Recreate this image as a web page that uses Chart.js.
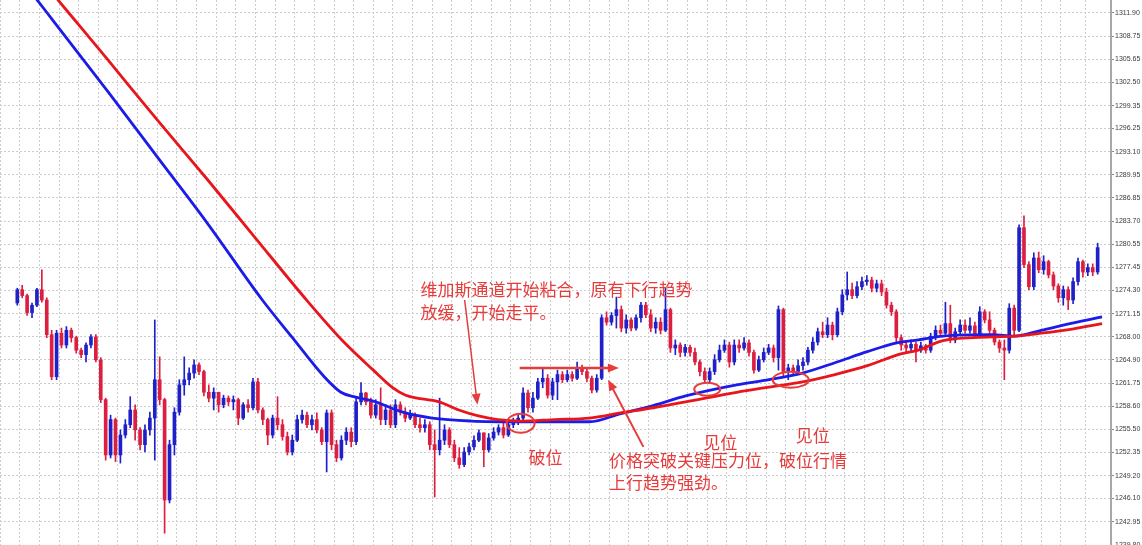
<!DOCTYPE html>
<html>
<head>
<meta charset="utf-8">
<script src="https://cdn.jsdelivr.net/npm/chart.js@4.4.1/dist/chart.umd.min.js"></script>
<style>
  html, body { margin: 0; padding: 0; background: #fff; }
  #wrap { width: 1142px; height: 545px; }
</style>
</head>
<body>
<div id="wrap"><canvas id="priceChart" width="1142" height="545"></canvas></div>
<script>
// price axis labels (right side)
const yTickLabels = ['1311.90','1308.75','1305.65','1302.50','1299.35','1296.25','1293.10','1289.95',
  '1286.85','1283.70','1280.55','1277.45','1274.30','1271.15','1268.00','1264.90','1261.75','1258.60',
  '1255.50','1252.35','1249.20','1246.10','1242.95','1239.80'];

// candles, one per bar slot
const opens = [
  1272.6,1274.4,1273.6,1271.3,1272.3,1274.4,1273.0,1268.3,1262.6,1268.5,
  1266.9,1268.9,1267.9,1266.2,1265.6,1266.9,1268.0,1264.9,1259.5,1252.0,
  1256.8,1252.0,1254.7,1256.1,1258.1,1255.4,1253.4,1255.4,1257.0,1262.2,
  1259.5,1245.9,1253.4,1257.8,1261.5,1262.2,1263.1,1264.2,1263.3,1260.5,
  1259.7,1260.5,1258.8,1259.7,1259.2,1259.5,1257.0,1258.8,1258.4,1261.9,
  1258.1,1256.8,1254.7,1257.0,1256.1,1254.5,1252.4,1254.0,1256.8,1257.4,
  1256.1,1256.8,1255.4,1253.8,1257.7,1253.4,1251.6,1254.0,1255.1,1253.8,
  1259.2,1260.4,1259.2,1257.4,1258.8,1256.8,1258.1,1256.1,1258.8,1257.8,
  1257.0,1257.4,1256.1,1255.7,1256.1,1253.4,1252.7,1254.0,1255.4,1253.4,
  1251.6,1250.7,1252.4,1253.1,1254.0,1255.0,1252.7,1254.3,1255.1,1255.7,
  1254.7,1256.1,1256.5,1257.0,1260.4,1258.4,1259.7,1261.9,1262.4,1260.1,
  1261.9,1262.9,1262.2,1262.9,1262.4,1263.8,1263.3,1262.4,1260.8,1262.4,
  1270.6,1270.0,1270.9,1271.7,1269.2,1270.3,1269.2,1270.6,1272.3,1271.0,
  1269.2,1270.0,1268.9,1271.7,1266.5,1266.9,1265.9,1266.6,1265.9,1264.6,
  1263.3,1262.2,1263.3,1264.9,1266.2,1266.9,1264.6,1266.9,1266.5,1267.2,
  1265.9,1263.5,1264.9,1265.9,1266.5,1265.2,1271.7,1263.3,1263.8,1263.3,
  1264.1,1264.6,1266.2,1267.3,1268.7,1268.3,1269.6,1268.3,1271.4,1273.7,
  1274.4,1273.6,1274.8,1275.5,1275.7,1274.6,1275.2,1274.1,1272.3,1271.4,
  1267.9,1266.9,1266.5,1267.0,1266.2,1266.8,1266.2,1268.1,1268.9,1268.5,
  1269.8,1267.6,1268.7,1269.6,1268.9,1269.5,1268.4,1271.4,1270.3,1268.9,
  1267.3,1266.5,1266.2,1271.9,1268.9,1282.8,1277.8,1274.8,1278.7,1277.1,
  1278.2,1276.4,1274.9,1273.3,1274.4,1273.0,1275.5,1278.2,1276.8,1277.4,1276.8
];
const highs = [
  1274.6,1275.0,1273.8,1272.6,1274.6,1277.1,1273.3,1268.9,1268.9,1269.2,
  1269.4,1269.2,1268.1,1266.5,1267.2,1268.3,1268.3,1265.2,1259.7,1257.4,
  1257.0,1255.4,1256.8,1259.9,1258.8,1255.7,1256.1,1257.8,1270.3,1265.3,
  1259.7,1254.0,1258.4,1262.2,1265.3,1263.8,1264.9,1264.5,1263.5,1261.5,
  1261.1,1260.5,1260.1,1260.0,1260.0,1259.7,1259.1,1259.5,1262.4,1262.4,
  1258.4,1257.0,1257.4,1259.9,1256.8,1255.1,1254.7,1257.4,1258.1,1257.8,
  1257.4,1257.7,1255.7,1258.1,1258.1,1254.0,1254.6,1255.7,1255.7,1259.7,
  1261.8,1260.5,1259.7,1259.5,1261.1,1258.8,1258.8,1259.5,1259.2,1258.4,
  1258.1,1257.7,1257.0,1256.8,1256.5,1255.4,1259.7,1256.1,1255.7,1254.0,
  1253.0,1253.0,1253.6,1254.6,1255.4,1255.0,1254.9,1255.7,1256.1,1256.3,
  1256.8,1257.0,1257.6,1261.1,1260.8,1260.5,1262.4,1263.8,1262.9,1262.4,
  1263.5,1263.3,1263.5,1263.3,1264.6,1264.2,1263.8,1262.7,1262.9,1271.0,
  1271.4,1271.3,1273.4,1272.2,1271.0,1270.6,1271.0,1272.7,1272.7,1271.7,
  1270.6,1270.6,1274.6,1271.9,1267.6,1267.2,1267.0,1266.9,1266.5,1264.9,
  1263.8,1263.8,1265.6,1266.9,1267.6,1267.3,1267.6,1267.6,1267.9,1267.6,
  1266.2,1265.4,1266.5,1267.0,1266.9,1272.2,1271.9,1264.3,1264.2,1264.9,
  1265.2,1266.6,1267.9,1269.2,1270.0,1270.6,1270.0,1271.9,1274.4,1276.8,
  1275.3,1275.5,1276.1,1276.3,1276.1,1275.7,1275.7,1274.6,1272.7,1271.7,
  1268.3,1267.5,1267.6,1267.3,1267.3,1267.0,1268.5,1269.5,1269.6,1272.7,
  1272.3,1269.2,1270.3,1270.3,1270.6,1270.0,1272.1,1271.7,1271.4,1269.2,
  1267.6,1267.6,1272.5,1272.3,1283.2,1284.4,1278.2,1279.4,1279.5,1279.0,
  1278.4,1276.8,1275.2,1274.9,1274.8,1276.0,1278.7,1278.4,1277.9,1277.9,1280.7
];
const lows = [
  1272.3,1273.3,1270.9,1270.6,1272.1,1272.7,1267.9,1262.2,1262.2,1266.5,
  1266.5,1267.3,1265.8,1265.2,1264.6,1266.5,1264.6,1259.1,1251.3,1251.6,
  1251.1,1250.9,1254.3,1255.7,1254.0,1252.7,1252.4,1254.7,1251.3,1258.8,
  1241.4,1245.5,1252.0,1257.4,1260.1,1261.5,1262.4,1262.9,1260.0,1259.2,
  1258.1,1257.8,1258.4,1258.7,1258.1,1256.1,1256.8,1257.8,1258.1,1257.7,
  1256.1,1253.4,1254.3,1255.4,1254.0,1252.0,1252.0,1253.8,1256.3,1255.7,
  1255.4,1255.0,1253.4,1249.7,1252.7,1251.1,1251.3,1253.4,1253.1,1253.4,
  1258.8,1258.8,1257.0,1257.0,1256.1,1256.1,1255.7,1255.7,1257.4,1256.5,
  1256.8,1255.7,1255.1,1255.1,1252.7,1246.3,1252.0,1253.4,1253.0,1251.1,
  1250.2,1250.4,1252.0,1252.7,1253.8,1250.4,1252.4,1254.0,1254.7,1254.3,
  1254.5,1255.7,1256.1,1256.8,1257.8,1257.8,1259.5,1261.1,1259.7,1259.5,
  1259.5,1261.8,1261.9,1262.0,1262.2,1262.9,1261.9,1260.4,1260.5,1262.2,
  1269.6,1269.6,1269.2,1268.7,1268.5,1268.8,1268.9,1270.0,1270.6,1268.7,
  1268.5,1268.4,1268.7,1265.9,1265.6,1265.3,1265.4,1265.4,1264.2,1262.7,
  1261.8,1261.9,1262.9,1264.6,1265.9,1263.9,1264.2,1265.9,1266.2,1265.4,
  1263.1,1263.3,1264.6,1265.6,1264.6,1263.5,1262.6,1262.2,1262.9,1262.9,
  1263.5,1264.2,1265.8,1266.9,1267.9,1267.9,1267.6,1268.0,1271.0,1273.0,
  1273.2,1273.3,1274.4,1275.0,1274.1,1274.1,1273.6,1271.9,1270.9,1267.3,
  1266.2,1265.9,1265.9,1264.6,1265.9,1265.8,1265.9,1267.6,1268.1,1268.3,
  1267.2,1267.2,1268.3,1268.5,1268.5,1268.0,1268.1,1269.9,1268.5,1266.9,
  1265.9,1262.2,1265.8,1268.3,1268.7,1277.4,1274.4,1274.4,1276.7,1276.5,
  1276.0,1274.4,1272.7,1272.3,1271.7,1272.5,1275.0,1276.1,1276.3,1276.3,1276.5
];
const closes = [
  1274.4,1273.6,1271.3,1272.3,1274.4,1273.0,1268.3,1262.6,1268.5,1266.9,
  1268.9,1267.9,1266.2,1265.6,1266.9,1268.0,1264.9,1259.5,1252.0,1256.8,
  1252.0,1254.7,1256.1,1258.1,1255.4,1253.4,1255.4,1257.0,1262.2,1259.5,
  1245.9,1253.4,1257.8,1261.5,1262.2,1263.1,1264.2,1263.3,1260.5,1259.7,
  1260.5,1258.8,1259.7,1259.2,1259.5,1257.0,1258.8,1258.4,1261.9,1258.1,
  1256.8,1254.7,1257.0,1256.1,1254.5,1252.4,1254.0,1256.8,1257.4,1256.1,
  1256.8,1255.4,1253.8,1257.7,1253.4,1251.6,1254.0,1255.1,1253.8,1259.2,
  1260.4,1259.2,1257.4,1258.8,1256.8,1258.1,1256.1,1258.8,1257.8,1257.0,
  1257.4,1256.1,1255.7,1256.1,1253.4,1252.7,1254.0,1255.4,1253.4,1251.6,
  1250.7,1252.4,1253.1,1254.0,1255.0,1252.7,1254.3,1255.1,1255.7,1254.7,
  1256.1,1256.5,1257.0,1260.4,1258.4,1259.7,1261.9,1262.4,1260.1,1261.9,
  1262.9,1262.2,1262.9,1262.4,1263.8,1263.3,1262.4,1260.8,1262.4,1270.6,
  1270.0,1270.9,1271.7,1269.2,1270.3,1269.2,1270.6,1272.3,1271.0,1269.2,
  1270.0,1268.9,1271.7,1266.5,1266.9,1265.9,1266.6,1265.9,1264.6,1263.3,
  1262.2,1263.3,1264.9,1266.2,1266.9,1264.6,1266.9,1266.5,1267.2,1265.9,
  1263.5,1264.9,1265.9,1266.5,1265.2,1271.7,1263.3,1263.8,1263.3,1264.1,
  1264.6,1266.2,1267.3,1268.7,1268.3,1269.6,1268.3,1271.4,1273.7,1274.4,
  1273.6,1274.8,1275.5,1275.7,1274.6,1275.2,1274.1,1272.3,1271.4,1267.9,
  1266.9,1266.5,1267.0,1266.2,1266.8,1266.2,1268.1,1268.9,1268.5,1269.8,
  1267.6,1268.7,1269.6,1268.9,1269.5,1268.4,1271.4,1270.3,1268.9,1267.3,
  1266.5,1266.2,1271.9,1268.9,1282.8,1277.8,1274.8,1278.7,1277.1,1278.2,
  1276.4,1274.9,1273.3,1274.4,1273.0,1275.5,1278.2,1276.8,1277.4,1276.8,1280.1
];

// Vegas channel lines, read at bar positions
const blueX  = [0, 7.6, 20, 30, 40, 51.4, 57.4, 64, 67.4, 70, 74, 80, 86, 94, 104, 111, 118, 124.4, 131, 137.6,
  148, 154.6, 161.4, 168, 174.6, 180.6, 185, 190, 200, 204.6, 210, 216.6, 222.4];
const blueMA = [1318.4, 1311.9, 1301.2, 1292.4, 1283.6, 1273.0, 1268.0, 1262.6, 1260.5, 1259.9, 1259.3, 1257.8,
  1257.0, 1256.6, 1256.5, 1256.5, 1256.5, 1257.6, 1258.7, 1260.0, 1261.5, 1262.2, 1263.1, 1264.5, 1266.0,
  1267.2, 1267.6, 1268.1, 1268.3, 1268.1, 1268.9, 1269.9, 1270.7];
const redX  = [0, 12, 20, 30, 40, 50, 60.4, 68, 74, 78, 80.6, 87.4, 91.4, 95.4, 99.4, 104, 111, 118, 124.4, 131,
  137.6, 148, 154.6, 161.4, 168, 174.6, 181.4, 185, 190, 200, 204.6, 210, 216.6, 222.4];
const redMA = [1321.5, 1311.9, 1305.5, 1297.4, 1289.5, 1281.4, 1273.0, 1267.3, 1263.5, 1261.1, 1260.1, 1259.2,
  1258.1, 1257.3, 1256.8, 1256.6, 1256.8, 1257.0, 1257.7, 1258.4, 1259.2, 1260.5, 1261.2, 1261.9, 1262.9,
  1264.1, 1265.7, 1266.2, 1267.5, 1268.0, 1268.1, 1268.5, 1269.1, 1269.8];

// annotations (bar position, price)
const noteText = ['维加斯通道开始粘合，原有下行趋势', '放缓，开始走平。', '破位',
  '价格突破关键压力位，破位行情', '上行趋势强劲。', '见位', '见位'];
const noteX = [83.6, 83.6, 105.6, 122, 122, 141.2, 160];
const noteY = [1274.4, 1271.3, 1251.7, 1251.3, 1248.2, 1253.7, 1254.7];

const arrowFrom = [[92.6, 1273.0], [103.8, 1263.8], [129.0, 1253.1]];
const arrowTo   = [[95.2, 1258.8], [124.0, 1263.8], [121.8, 1262.2]];
const arrowWidth = [1.5, 2.5, 2];

const ringX = [104, 142, 159];
const ringY = [1256.3, 1260.9, 1262.2];
const ringRx = [14, 13, 18];
const ringRy = [9.5, 6.5, 8];

const upColor = '#2020c8';
const downColor = '#dc1f40';
const noteColor = '#e63c3c';

const barX = closes.map((_, k) => k + 1.5);
const candleColors = closes.map((c, k) => c >= opens[k] ? upColor : downColor);

const notesPlugin = {
  id: 'notes',
  afterDatasetsDraw(chart) {
    const { ctx, scales: { x, y } } = chart;
    const px = v => x.getPixelForValue(v);
    const py = v => y.getPixelForValue(v);
    ctx.save();
    ctx.fillStyle = noteColor;
    ctx.strokeStyle = noteColor;

    ctx.font = '17px "Noto Sans CJK SC"';
    ctx.textBaseline = 'middle';
    ctx.textAlign = 'left';
    noteText.forEach((t, i) => ctx.fillText(t, px(noteX[i]), py(noteY[i])));

    arrowFrom.forEach((a, i) => {
      const x1 = px(a[0]), y1 = py(a[1]);
      const x2 = px(arrowTo[i][0]), y2 = py(arrowTo[i][1]);
      const ang = Math.atan2(y2 - y1, x2 - x1);
      const head = 11, half = 4.5;
      ctx.lineWidth = arrowWidth[i];
      ctx.beginPath();
      ctx.moveTo(x1, y1);
      ctx.lineTo(x2 - Math.cos(ang) * head * 0.8, y2 - Math.sin(ang) * head * 0.8);
      ctx.stroke();
      ctx.beginPath();
      ctx.moveTo(x2, y2);
      ctx.lineTo(x2 - Math.cos(ang) * head - Math.sin(ang) * half, y2 - Math.sin(ang) * head + Math.cos(ang) * half);
      ctx.lineTo(x2 - Math.cos(ang) * head + Math.sin(ang) * half, y2 - Math.sin(ang) * head - Math.cos(ang) * half);
      ctx.closePath();
      ctx.fill();
    });

    ctx.lineWidth = 2;
    ringX.forEach((rx, i) => {
      ctx.beginPath();
      ctx.ellipse(px(rx), py(ringY[i]), ringRx[i], ringRy[i], 0, 0, Math.PI * 2);
      ctx.stroke();
    });
    ctx.restore();
  }
};

new Chart(document.getElementById('priceChart'), {
  type: 'bar',
  data: {
    datasets: [
      {
        type: 'line',
        data: redX.map((x, i) => ({ x, y: redMA[i] })),
        borderColor: '#e8161c',
        borderWidth: 2.8,
        pointRadius: 0,
        cubicInterpolationMode: 'monotone',
        order: 0
      },
      {
        type: 'line',
        data: blueX.map((x, i) => ({ x, y: blueMA[i] })),
        borderColor: '#1c1ce8',
        borderWidth: 2.8,
        pointRadius: 0,
        cubicInterpolationMode: 'monotone',
        order: 1
      },
      {
        data: barX.map((x, k) => ({ x, y: [opens[k], closes[k]] })),
        backgroundColor: candleColors,
        barThickness: 3,
        minBarLength: 1,
        grouped: false,
        order: 2
      },
      {
        data: barX.map((x, k) => ({ x, y: [lows[k], highs[k]] })),
        backgroundColor: candleColors,
        barThickness: 1,
        grouped: false,
        order: 3
      }
    ]
  },
  options: {
    responsive: false,
    devicePixelRatio: 1,
    animation: false,
    layout: { padding: 0 },
    plugins: { legend: { display: false }, tooltip: { enabled: false } },
    scales: {
      x: {
        type: 'linear',
        min: 0,
        max: 222.2,
        ticks: { display: false, stepSize: 4 },
        grid: { color: '#cccccc', lineWidth: 1, drawTicks: false },
        border: { display: false, dash: [2, 2] }
      },
      y: {
        position: 'right',
        min: 1239.80,
        max: 1313.66,
        afterBuildTicks: s => { s.ticks = yTickLabels.map(t => ({ value: parseFloat(t) })); },
        afterFit: s => { s.width = 31; s.paddingTop = 0; s.paddingBottom = 0; },
        ticks: {
          color: '#3a3a3a',
          font: { family: '"Liberation Sans", Arial, sans-serif', size: 7 },
          padding: 1,
          callback: v => v.toFixed(2)
        },
        grid: { color: '#cccccc', lineWidth: 1, drawTicks: true, tickLength: 3, tickColor: '#888888' },
        border: { display: true, color: '#a8a8a8', width: 2, dash: [2, 2] }
      }
    }
  },
  plugins: [notesPlugin]
});
</script>
</body>
</html>
